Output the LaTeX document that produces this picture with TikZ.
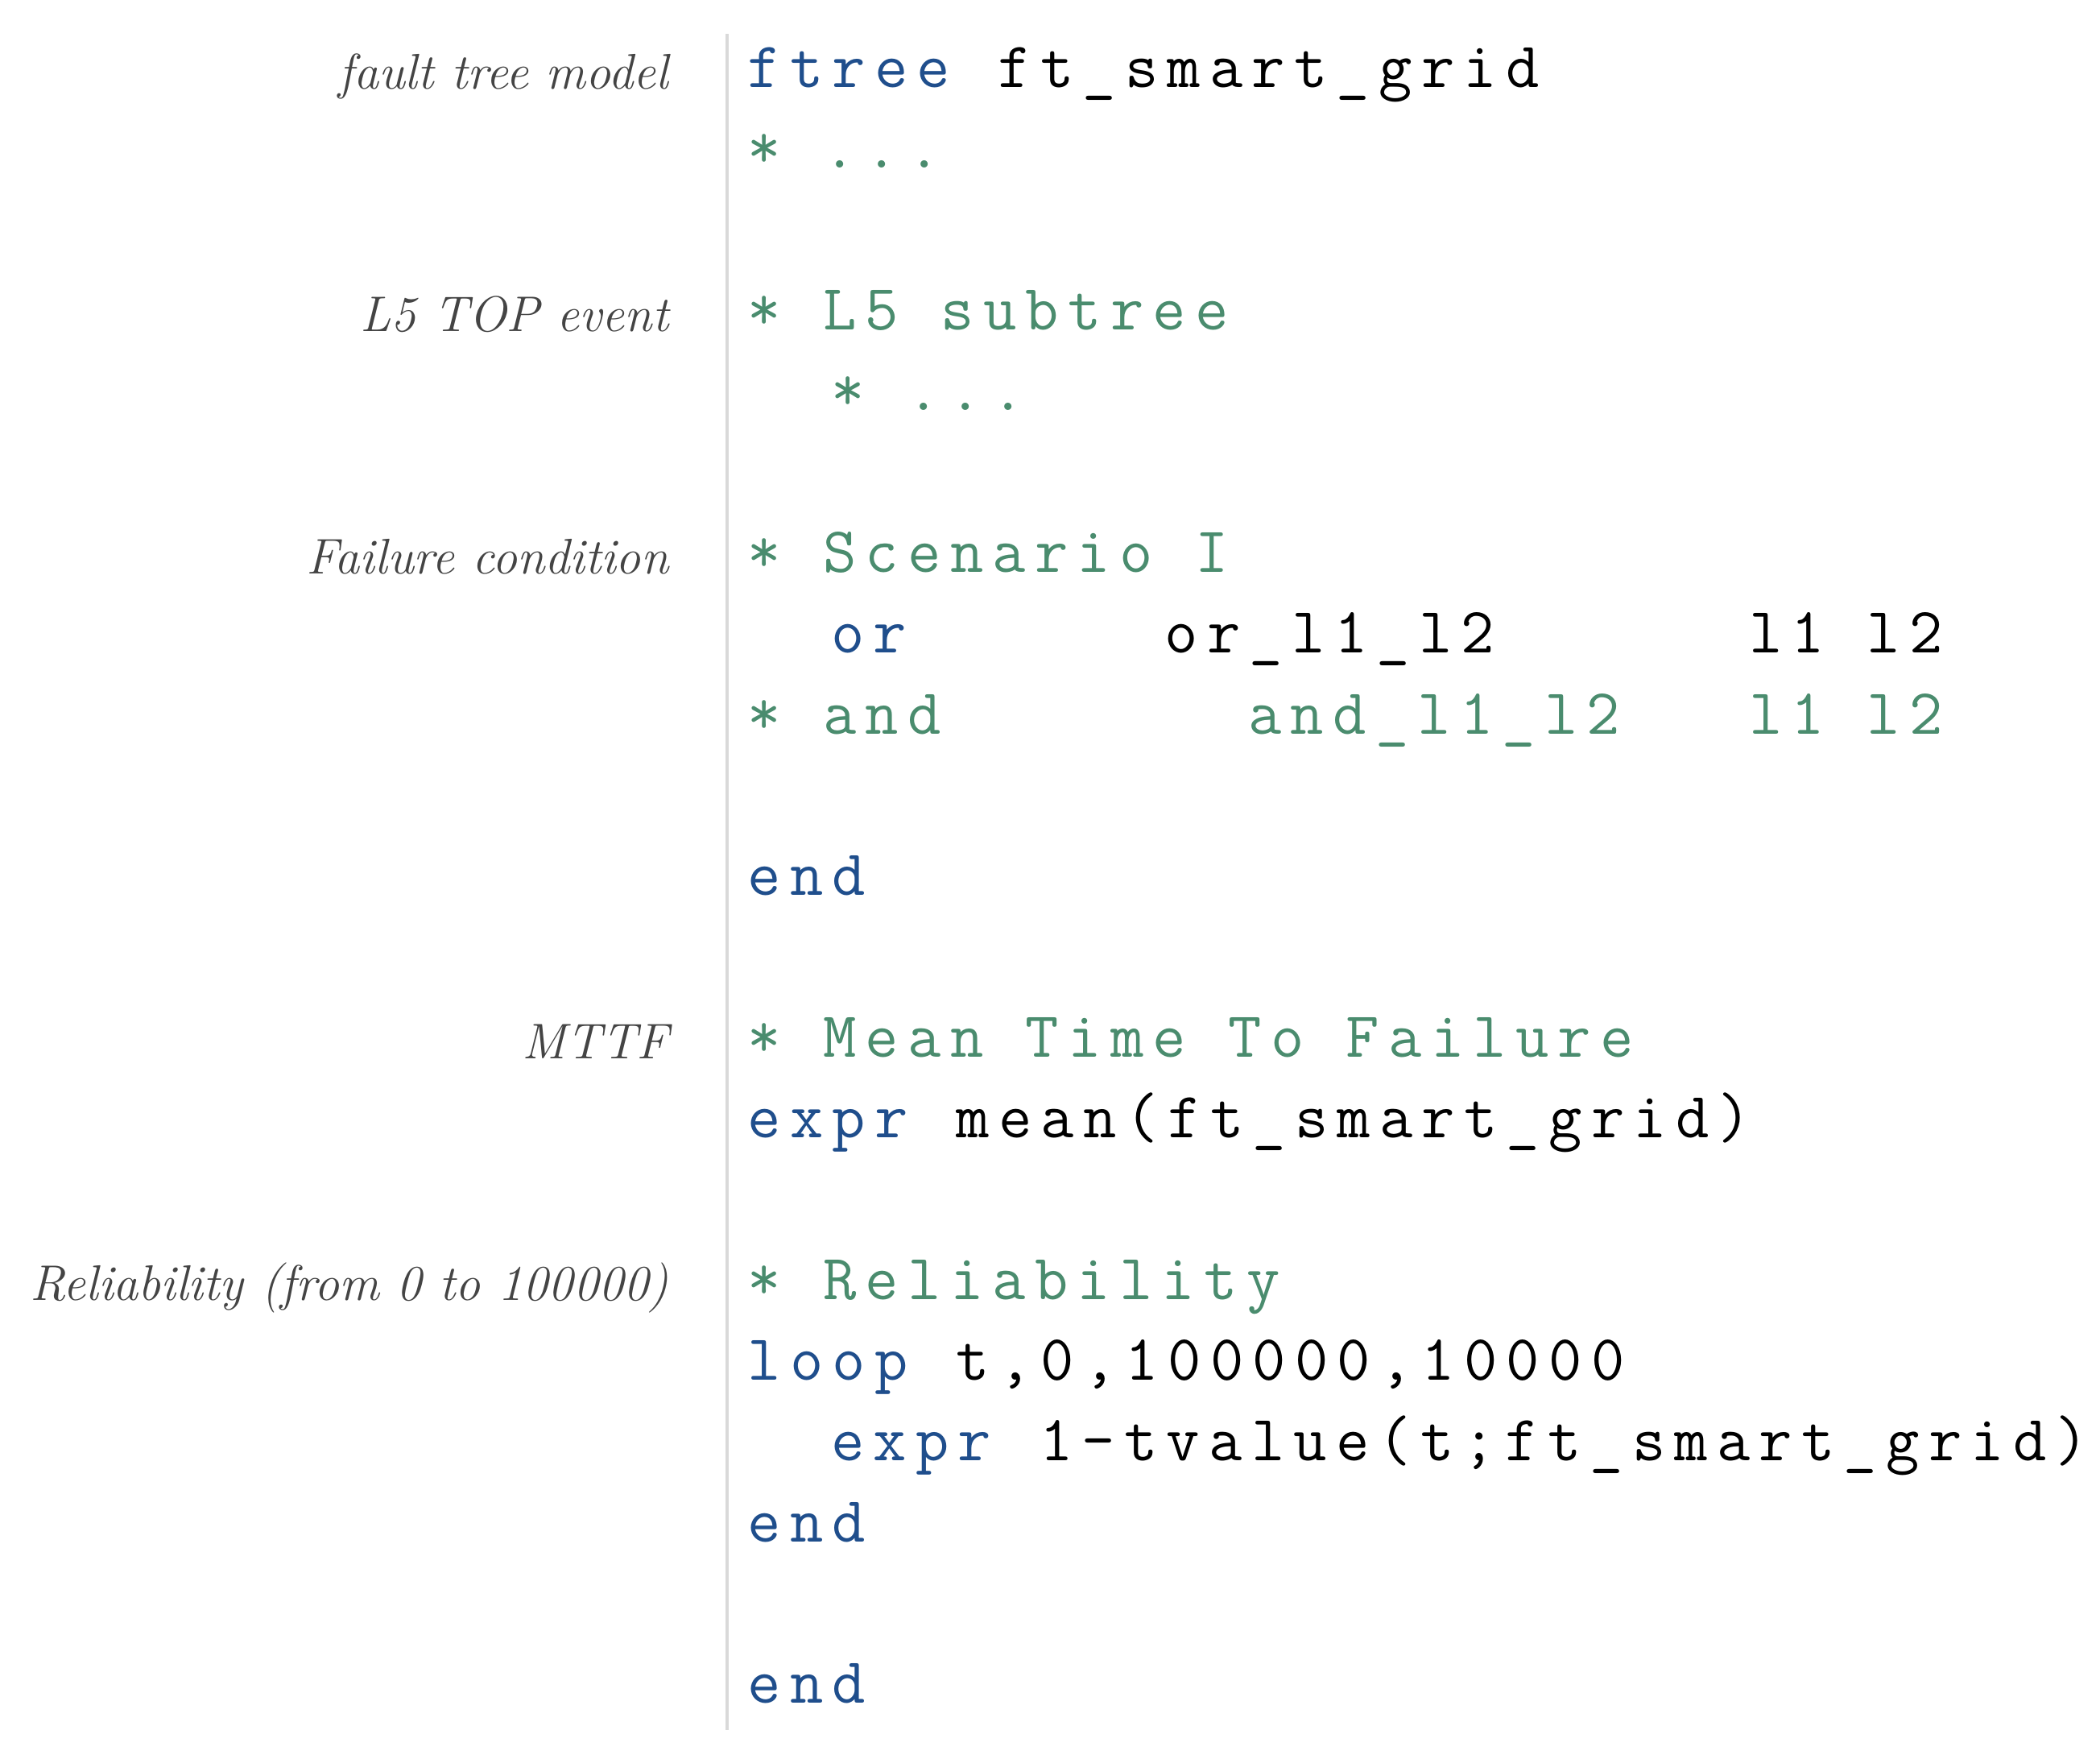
\documentclass[tikz,border=0pt]{standalone}
\usepackage{fontspec}
\newfontfamily\codefont{Latin Modern Mono}[LetterSpace=14]
\definecolor{kw}{HTML}{1F4E8C}
\definecolor{cm}{HTML}{4A8C6E}
\definecolor{lab}{HTML}{444444}
\begin{document}
\begin{tikzpicture}[x=0.5pt,y=-0.5pt,
  code/.style={anchor=base west,inner sep=0pt,font=\codefont\fontsize{24}{28}\selectfont},
  lbl/.style={anchor=base east,inner sep=0pt,text=lab,font=\itshape\fontsize{18.6}{23}\selectfont}]
\useasboundingbox (0,0) rectangle (1560,1303);
\newcommand\tok[5]{\node[code,text=#4] (#1) at ({555+31*#2},{#3+10}) {#5};}
\draw[gray!30,line width=1.2pt] (540,25) -- (540,1285);
\node[lbl] (l1) at (497,66) {fault tree model};
\node[lbl] (l2) at (497,246) {L5 TOP event};
\node[lbl] (l3) at (497,426) {Failure condition};
\node[lbl] (l4) at (497,786) {MTTF};
\node[lbl] (l5) at (497,966) {Reliability (from 0 to 100000)};
\tok{a1}{0}{55}{kw}{ftree}
\tok{a2}{6}{55}{black}{ft\_smart\_grid}
\tok{b1}{0}{115}{cm}{* ...}
\tok{c1}{0}{235}{cm}{* L5 subtree}
\tok{d1}{2}{295}{cm}{* ...}
\tok{e1}{0}{415}{cm}{* Scenario I}
\tok{f1}{2}{475}{kw}{or}
\tok{f2}{10}{475}{black}{or\_l1\_l2}
\tok{f3}{24}{475}{black}{l1 l2}
\tok{g1}{0}{535}{cm}{* and}
\tok{g2}{12}{535}{cm}{and\_l1\_l2}
\tok{g3}{24}{535}{cm}{l1 l2}
\tok{h1}{0}{655}{kw}{end}
\tok{i1}{0}{775}{cm}{* Mean Time To Failure}
\tok{j1}{0}{835}{kw}{expr}
\tok{j2}{5}{835}{black}{mean(ft\_smart\_grid)}
\tok{k1}{0}{955}{cm}{* Reliability}
\tok{m1}{0}{1015}{kw}{loop}
\tok{m2}{5}{1015}{black}{t,0,100000,10000}
\tok{n1}{2}{1075}{kw}{expr}
\tok{n2}{7}{1075}{black}{1-tvalue(t;ft\_smart\_grid)}
\tok{o1}{0}{1135}{kw}{end}
\tok{p1}{0}{1255}{kw}{end}
\end{tikzpicture}
\end{document}
